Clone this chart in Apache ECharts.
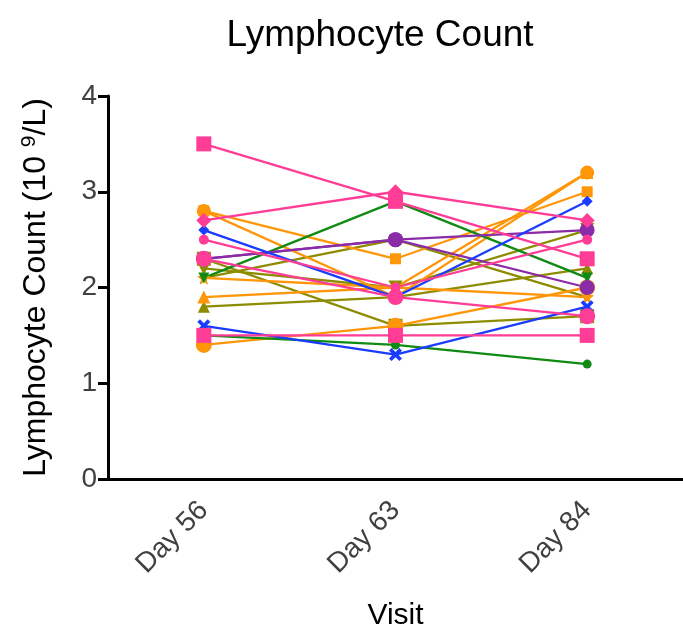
<!DOCTYPE html>
<html>
<head>
<meta charset="utf-8">
<script src="https://cdn.jsdelivr.net/npm/echarts@6/dist/echarts.min.js"></script>
<style>
  html, body { margin: 0; padding: 0; background: #fff; overflow: hidden; }
  #chart { width: 683px; height: 630px; }
</style>
</head>
<body>
<div id="chart"></div>
<script>
// Visits on the x axis
const visits = ['Day 56', 'Day 63', 'Day 84'];
const yTicks = [0, 1, 2, 3, 4];

// Lymphocyte counts (10^9/L) per subject, one value per visit
const subj01 = [3.5, 2.9, 2.3];
const subj02 = [2.7, 3.0, 2.7];
const subj03 = [2.5, 2.0, 2.5];
const subj04 = [2.3, 1.9, 1.7];
const subj05 = [1.5, 1.5, 1.5];
const subj06 = [2.6, 1.9, 2.9];
const subj07 = [1.6, 1.3, 1.8];
const subj08 = [2.1, 2.9, 2.1];
const subj09 = [1.5, 1.4, 1.2];
const subj10 = [2.3, 2.5, 2.6];
const subj11 = [2.3, 2.5, 2.0];
const subj12 = [2.8, 2.3, 3.0];
const subj13 = [2.8, 1.9, 3.2];
const subj14 = [2.1, 2.0, 1.9];
const subj15 = [1.9, 2.0, 3.2];
const subj16 = [1.4, 1.6, 2.0];
const subj17 = [1.8, 1.9, 2.2];
const subj18 = [2.1, 2.5, 1.9];
const subj19 = [2.2, 2.0, 2.6];
const subj20 = [2.3, 1.6, 1.7];

const PINK = '#FF3D97', BLUE = '#1A3CFF', GREEN = '#0F8A12',
      PURPLE = '#8A2BA8', ORANGE = '#FF9608', OLIVE = '#8D8C00';

const CROSS = 'path://M2,0 L5,3 L8,0 L10,2 L7,5 L10,8 L8,10 L5,7 L2,10 L0,8 L3,5 L0,2 Z';
const STAR = 'path://M5,0 L6.2,3.4 L10,3.8 L7,6.2 L8,10 L5,7.8 L2,10 L3,6.2 L0,3.8 L3.8,3.4 Z';

// [values, colour, symbol, size, rotate]
const subjects = [
  [subj20, OLIVE, 'rect', 14, 0],
  [subj19, OLIVE, 'triangle', 14, 180],
  [subj18, OLIVE, STAR, 13, 0],
  [subj17, OLIVE, 'triangle', 12, 0],
  [subj16, ORANGE, 'circle', 16, 0],
  [subj15, ORANGE, 'triangle', 13, 0],
  [subj14, ORANGE, STAR, 13, 0],
  [subj13, ORANGE, 'circle', 14, 0],
  [subj12, ORANGE, 'rect', 11, 0],
  [subj09, GREEN, 'circle', 9, 0],
  [subj08, GREEN, 'triangle', 11, 180],
  [subj11, PURPLE, 'circle', 15, 0],
  [subj10, PURPLE, 'circle', 15, 0],
  [subj07, BLUE, CROSS, 13, 0],
  [subj06, BLUE, 'diamond', 11, 0],
  [subj05, PINK, 'rect', 15, 0],
  [subj04, PINK, 'circle', 16, 0],
  [subj03, PINK, 'circle', 10, 0],
  [subj02, PINK, 'diamond', 15, 0],
  [subj01, PINK, 'rect', 15, 0]
];

const FONT = '"Liberation Sans", Arial, sans-serif';
const chart = echarts.init(document.getElementById('chart'), null, { renderer: 'canvas' });

chart.setOption({
  animation: false,
  backgroundColor: '#ffffff',
  title: {
    text: 'Lymphocyte Count',
    left: 375, top: 12, textAlign: 'center',
    textStyle: { fontFamily: FONT, fontSize: 37, fontWeight: 'normal', color: '#000' }
  },
  grid: { left: 108, right: 0, top: 96, bottom: 151, containLabel: false, outerBoundsMode: 'none' },
  xAxis: {
    type: 'category',
    data: visits,
    boundaryGap: true,
    name: 'Visit',
    nameLocation: 'middle',
    nameGap: 122,
    nameTextStyle: { fontFamily: FONT, fontSize: 30, color: '#000' },
    axisLine: { lineStyle: { color: '#000', width: 3 } },
    axisTick: { alignWithLabel: true, length: 10, lineStyle: { color: '#000', width: 3 } },
    axisLabel: { rotate: 45, margin: 27, fontFamily: FONT, fontSize: 28, color: '#404040' },
    splitLine: { show: false }
  },
  yAxis: {
    type: 'value',
    min: yTicks[0], max: yTicks[yTicks.length - 1], interval: 1,
    name: '{t|Lymphocyte Count (10 }{s|9}{t|/L)}',
    nameLocation: 'middle',
    nameGap: 55,
    nameTextStyle: {
      fontFamily: FONT, color: '#000',
      rich: {
        t: { fontFamily: FONT, fontSize: 32, color: '#000' },
        s: { fontFamily: FONT, fontSize: 21, color: '#000', verticalAlign: 'top', padding: [0, 0, 13, 0] }
      }
    },
    axisLine: { show: true, lineStyle: { color: '#000', width: 3 } },
    axisTick: { show: true, length: 10, lineStyle: { color: '#000', width: 3 } },
    axisLabel: { margin: 11, fontFamily: FONT, fontSize: 28, color: '#404040' },
    splitLine: { show: false }
  },
  series: subjects.map(([vals, color, symbol, size, rot]) => ({
    type: 'line',
    data: vals,
    symbol: symbol,
    symbolSize: size,
    symbolRotate: rot,
    showAllSymbol: true,
    lineStyle: { color: color, width: 2.3 },
    itemStyle: { color: color, borderWidth: 0 },
    emphasis: { disabled: true }
  }))
});
</script>
</body>
</html>
